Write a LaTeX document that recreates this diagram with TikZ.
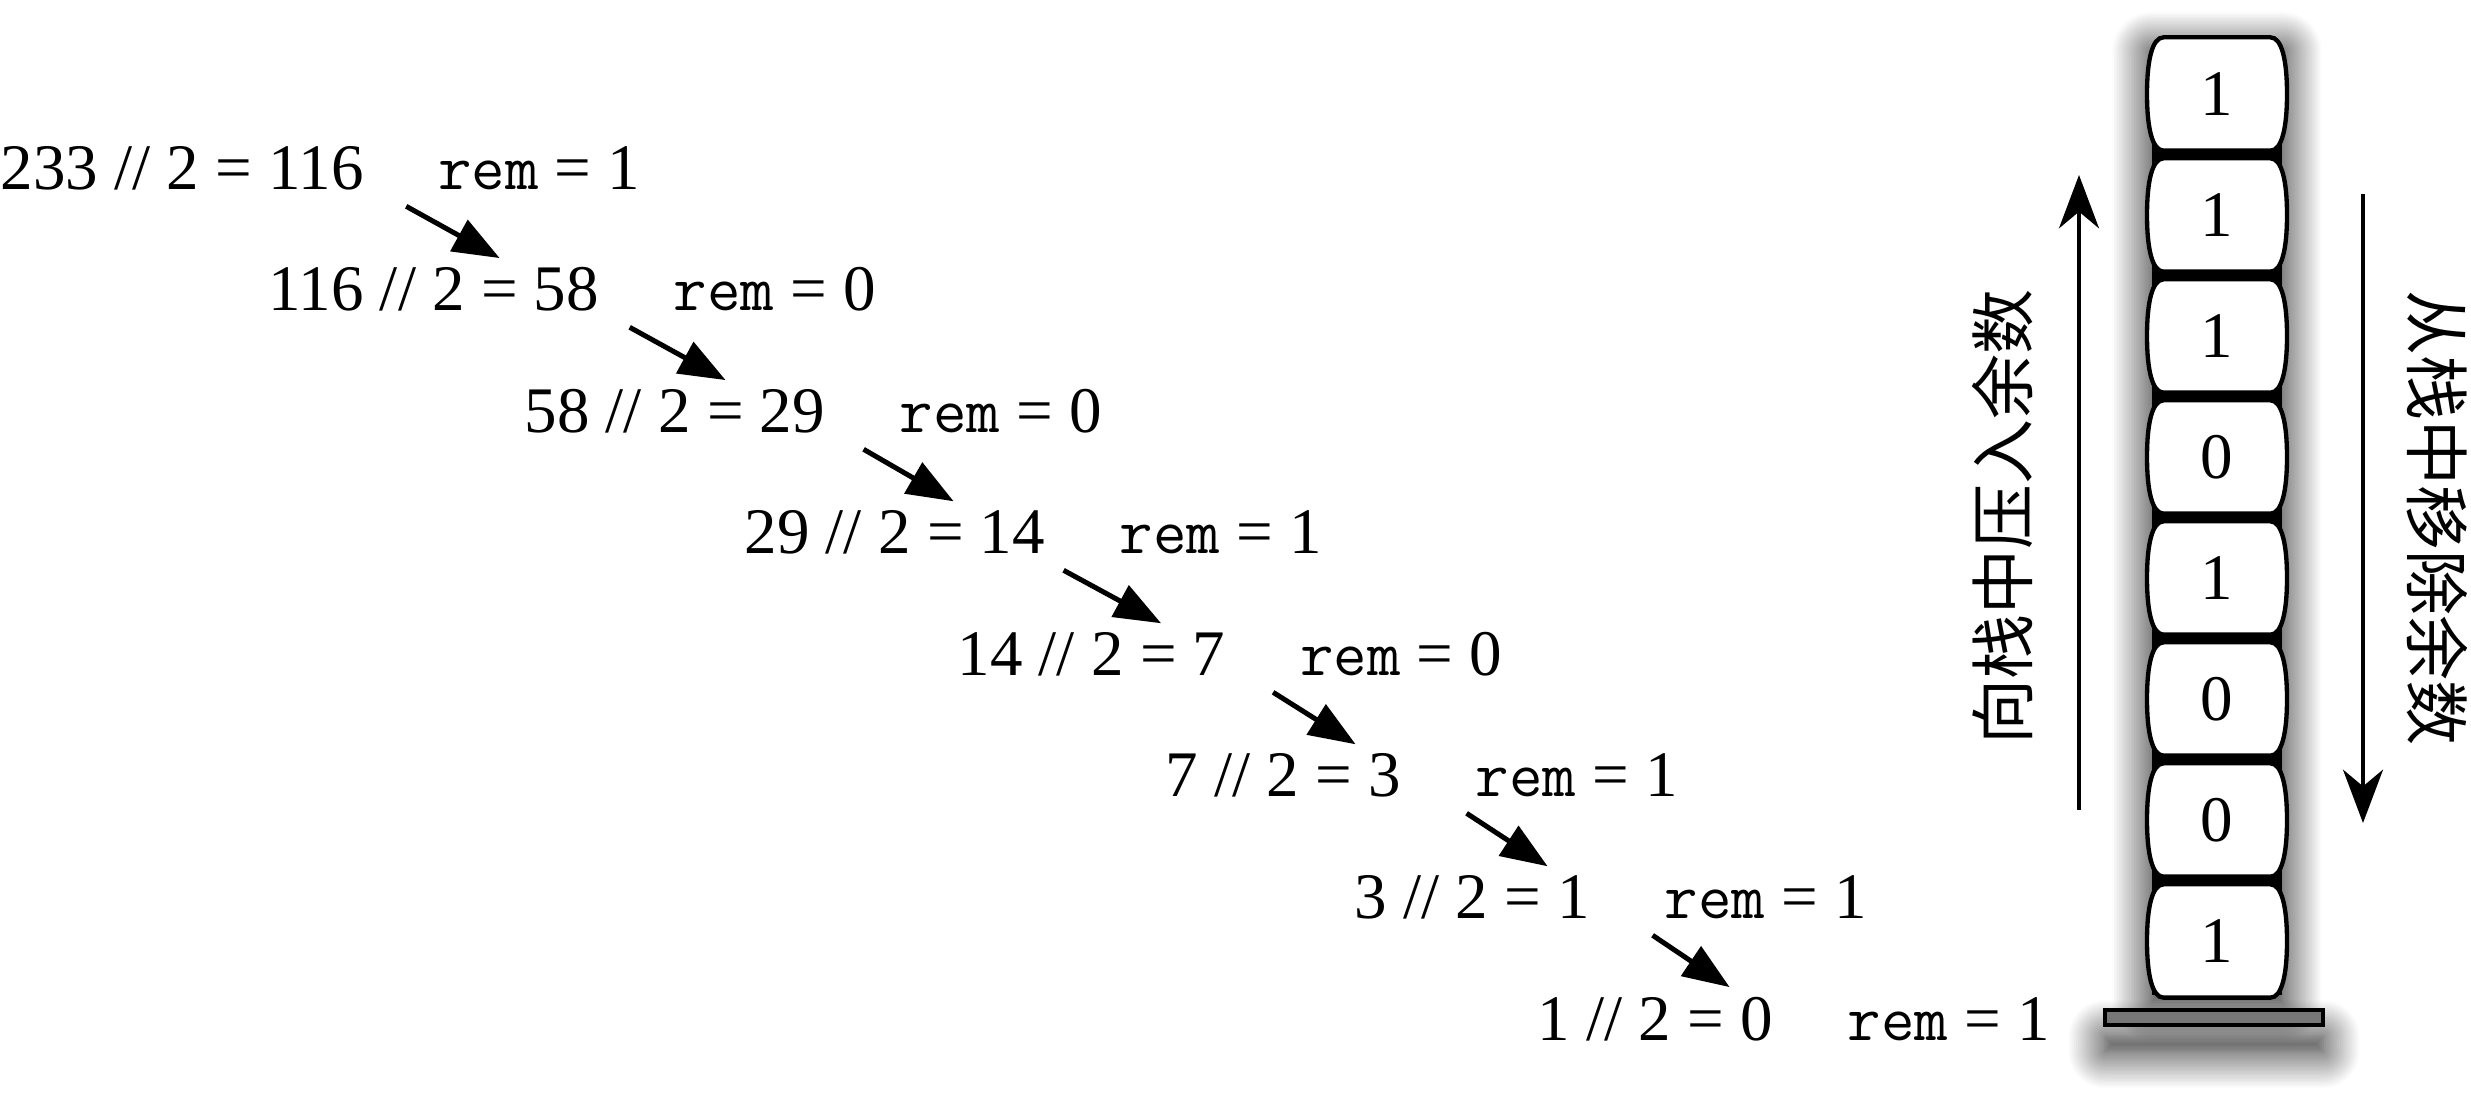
\documentclass[tikz,border=0pt]{standalone}
\usepackage{fontspec}
\setmainfont{Liberation Serif}
\newfontfamily\cjk{Noto Sans CJK SC}
\usepackage{tikz}
\usetikzlibrary{arrows.meta,positioning,shadows.blur}
\definecolor{plategray}{HTML}{777777}

\tikzset{
  cell/.pic={
    \draw[line width=1.3pt,fill=white]
      (-16pt,17pt) -- (16pt,17pt)
      .. controls (19.5pt,17pt) and (21pt,10pt) .. (21pt,0pt)
      .. controls (21pt,-10pt) and (19.5pt,-17pt) .. (16pt,-17pt)
      -- (-16pt,-17pt)
      .. controls (-19.5pt,-17pt) and (-21pt,-10pt) .. (-21pt,0pt)
      .. controls (-21pt,10pt) and (-19.5pt,17pt) .. cycle;
    \node (-bit) {#1};
  }
}

\begin{document}
\begin{tikzpicture}[x=0.3pt,y=-0.3pt,font=\fontsize{19.5pt}{23pt}\selectfont,
  expr/.style={inner sep=0pt,anchor=base west},
  rem/.style={inner sep=0pt},
  divarrow/.style={-{Triangle[length=14pt,width=10.5pt]},line width=1.5pt},
  stackarrow/.style={-{Stealth[length=16pt,width=12pt,inset=5pt]},line width=1.1pt,draw=black,fill=black}]
  \useasboundingbox (0,0) rectangle (2471,1116);

  % the divisions
  \node[expr] (e1) at (0,190) {233 // 2 = 116};
  \node[expr] (e2) at (268,311) {116 // 2 = 58};
  \node[expr] (e3) at (524,433) {58 // 2 = 29};
  \node[expr] (e4) at (744,554) {29 // 2 = 14};
  \node[expr] (e5) at (957,676) {14 // 2 = 7};
  \node[expr] (e6) at (1165,797) {7 // 2 = 3};
  \node[expr] (e7) at (1354,919) {3 // 2 = 1};
  \node[expr] (e8) at (1537,1040) {1 // 2 = 0};

  \node[rem,base right=22pt of e1] (r1) {\texttt{rem} = 1};
  \node[rem,base right=22pt of e2] (r2) {\texttt{rem} = 0};
  \node[rem,base right=22pt of e3] (r3) {\texttt{rem} = 0};
  \node[rem,base right=22pt of e4] (r4) {\texttt{rem} = 1};
  \node[rem,base right=22pt of e5] (r5) {\texttt{rem} = 0};
  \node[rem,base right=22pt of e6] (r6) {\texttt{rem} = 1};
  \node[rem,base right=22pt of e7] (r7) {\texttt{rem} = 1};
  \node[rem,base right=22pt of e8] (r8) {\texttt{rem} = 1};

  \draw[divarrow] ([xshift=12.6pt,yshift=-4.5pt]e1.south east) -- ([xshift=-30pt,yshift=2.7pt]e2.north east);
  \draw[divarrow] ([xshift=9pt,yshift=-4.5pt]e2.south east) -- ([xshift=-30pt,yshift=2.7pt]e3.north east);
  \draw[divarrow] ([xshift=11.4pt,yshift=-4.5pt]e3.south east) -- ([xshift=-27.6pt,yshift=2.7pt]e4.north east);
  \draw[divarrow] ([xshift=5.4pt,yshift=-4.5pt]e4.south east) -- ([xshift=-19.5pt,yshift=2.7pt]e5.north east);
  \draw[divarrow] ([xshift=14.1pt,yshift=-4.5pt]e5.south east) -- ([xshift=-13.8pt,yshift=2.7pt]e6.north east);
  \draw[divarrow] ([xshift=19.5pt,yshift=-4.5pt]e6.south east) -- ([xshift=-12.9pt,yshift=2.7pt]e7.north east);
  \draw[divarrow] ([xshift=18.6pt,yshift=-4.5pt]e7.south east) -- ([xshift=-13.2pt,yshift=2.7pt]e8.north east);

  % push and pop
  \coordinate (pushlo) at (2079,810);
  \coordinate (pushhi) at (2079,175);
  \coordinate (poptop) at (2363,194);
  \coordinate (popbot) at (2363,823);
  \draw[stackarrow] (pushlo) -- (pushhi);
  \draw[stackarrow] (poptop) -- (popbot);

  \node[rotate=90] (pushtxt) at (2003,517) {\cjk 向栈中压入余数};
  \node[rotate=-90] (poptxt) at (2437,518) {\cjk 从栈中移除余数};

  % the stack
  \path[fill=black,blur shadow={shadow xshift=0pt,shadow yshift=-2pt,shadow blur radius=12pt,shadow opacity=100,shadow blur steps=24}]
    (2152,45) rectangle (2282,995);
  \node[draw,line width=1.2pt,fill=plategray,minimum width=65.4pt,minimum height=4.5pt,inner sep=0pt,
    blur shadow={shadow xshift=0pt,shadow yshift=-8pt,shadow blur radius=11pt,shadow opacity=90,shadow blur steps=20}]
    (plate) at (2214,1017.5) {};

  \pic (c1) at (2217,94) {cell=1};
  \pic (c2) at (2217,215) {cell=1};
  \pic (c3) at (2217,336) {cell=1};
  \pic (c4) at (2217,457) {cell=0};
  \pic (c5) at (2217,578) {cell=1};
  \pic (c6) at (2217,699) {cell=0};
  \pic (c7) at (2217,820) {cell=0};
  \pic (c8) at (2217,941) {cell=1};
\end{tikzpicture}
\end{document}
